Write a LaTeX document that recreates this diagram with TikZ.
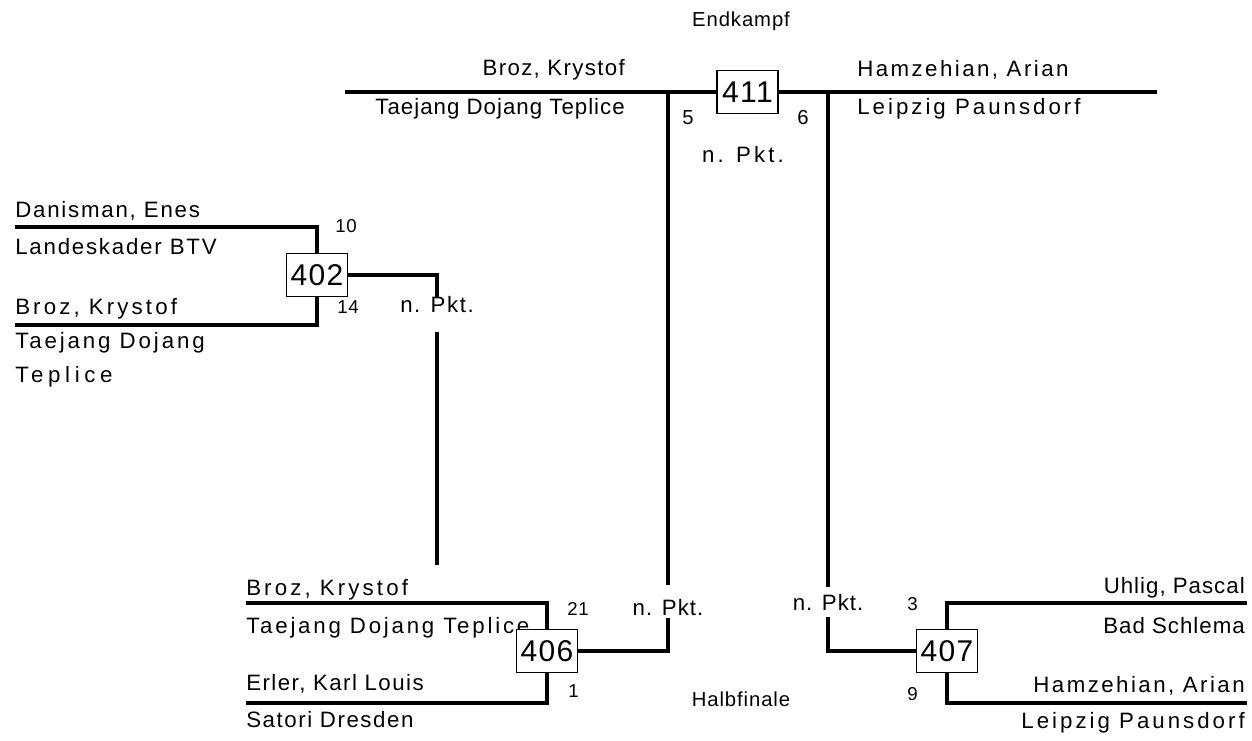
\documentclass[tikz,border=0pt]{standalone}
\usepackage{fontspec}
\setmainfont{Liberation Sans}[LetterSpace=4.5]
\usepackage{tikz}
\newcommand{\namefont}{\fontsize{16.7pt}{25.5pt}\selectfont}
\newcommand{\scorefont}{\fontsize{14pt}{17pt}\selectfont}
\newcommand{\boxfont}{\fontsize{22.5pt}{27pt}\selectfont}
\newcommand{\roundfont}{\fontsize{15.2pt}{18pt}\selectfont}
\newcommand{\track}[1]{\addfontfeature{LetterSpace=#1}}
\edef\boxwidth{45.75pt}
\edef\boxheight{32.25pt}
\tikzstyle{matchbox}=[draw,fill=white,line width=0.9pt,inner sep=0pt,minimum width=\boxwidth,minimum height=\boxheight,font=\boxfont]
\tikzstyle{player}=[inner sep=0pt,font=\namefont]
\tikzstyle{score}=[inner sep=0pt,anchor=base west,font=\scorefont]
\tikzstyle{ptlabel}=[inner sep=0pt,anchor=base,font=\namefont]
\tikzstyle{bline}=[line width=2.6pt]

\begin{document}
\begin{tikzpicture}[x=0.75pt,y=-0.75pt]
	\useasboundingbox (0,0) rectangle (1252,741);

	% Endkampf
	\node[inner sep=0pt,anchor=base,font=\roundfont] (final) at (741,27) {Endkampf};
	\node[player,anchor=base east,font=\namefont\track{6}] (f1name) at (625,76) {Broz, Krystof};
	\node[player,anchor=base east] (f1club) at (625,115) {Taejang Dojang Teplice};
	\node[player,anchor=base west,font=\namefont\track{11}] (f2name) at (857,77) {Hamzehian, Arian};
	\node[player,anchor=base west,font=\namefont\track{13.5}] (f2club) at (857,115) {Leipzig Paunsdorf};
	\node[score,font=\roundfont] (f1score) at (682,125) {5};
	\node[score,font=\roundfont] (f2score) at (797,125) {6};
	\node[ptlabel,font=\namefont\track{14}] (p411) at (743,163) {n. Pkt.};
	\node[matchbox] (m411) at (747.5,92) {411};
	\coordinate (a411) at (345,92);
	\coordinate (b411) at (1157,92);

	% Kampf 402
	\node[player,anchor=base west,font=\namefont\track{8}] (k1name) at (15,218) {Danisman, Enes};
	\node[player,anchor=base west,font=\namefont\track{8}] (k1club) at (15,255) {Landeskader BTV};
	\node[player,anchor=base west,font=\namefont\track{14}] (k2name) at (15,315) {Broz, Krystof};
	\node[player,anchor=north west,align=left] (k2club) at (15,332) {{\track{13}Taejang Dojang}\\{\track{21}Teplice}};
	\node[score] (k1score) at (335,233) {10};
	\node[score] (k2score) at (337,314) {14};
	\node[ptlabel,text height=12pt,text depth=14.25pt,font=\namefont\track{7}] (p402) at (437,313) {n. Pkt.};
	\node[matchbox] (m402) at (317,275) {402};
	\coordinate (a402) at (15,227);
	\coordinate (b402) at (15,325);
	\coordinate (e402) at (437,565);

	% Halbfinale links
	\node[player,anchor=base west,font=\namefont\track{14}] (h1name) at (246,595) {Broz, Krystof};
	\node[player,anchor=base west,font=\namefont\track{12.5}] (h1club) at (246,633) {Taejang Dojang Teplice};
	\node[player,anchor=base west,font=\namefont\track{6.5}] (h2name) at (246,690) {Erler, Karl Louis};
	\node[player,anchor=base west,font=\namefont\track{7}] (h2club) at (246,727) {Satori Dresden};
	\node[score] (h1score) at (567,615) {21};
	\node[score] (h2score) at (568,697) {1};
	\node[ptlabel,text height=22.5pt,text depth=2.25pt] (p406) at (668,615) {n. Pkt.};
	\node[matchbox] (m406) at (547,651) {406};
	\coordinate (a406) at (246,603);
	\coordinate (b406) at (246,703);
	\node[inner sep=0pt,anchor=base,font=\roundfont] (semi) at (741,706) {Halbfinale};

	% Halbfinale rechts
	\node[player,anchor=base east] (r1name) at (1245,593) {Uhlig, Pascal};
	\node[player,anchor=base east] (r1club) at (1245,633) {Bad Schlema};
	\node[player,anchor=base east,font=\namefont\track{11}] (r2name) at (1245,692) {Hamzehian, Arian};
	\node[player,anchor=base east,font=\namefont\track{13.5}] (r2club) at (1245,728) {Leipzig Paunsdorf};
	\node[score] (r1score) at (907,610) {3};
	\node[score] (r2score) at (907,700) {9};
	\node[ptlabel,text height=17.25pt,text depth=5.25pt] (p407) at (828,610) {n. Pkt.};
	\node[matchbox] (m407) at (947,651) {407};
	\coordinate (a407) at (1247,603);
	\coordinate (b407) at (1247,703);

	% Linien
	\draw[bline] (a411) -- (m411.west);
	\draw[bline] (m411.east) -- (b411);
	\draw[bline] (a402) -| (m402.north);
	\draw[bline] (b402) -| (m402.south);
	\draw[bline] (m402.east) -| (p402.north);
	\draw[bline] (p402.south) -- (e402);
	\draw[bline] (a406) -| (m406.north);
	\draw[bline] (b406) -| (m406.south);
	\draw[bline] (m406.east) -| (p406.south);
	\draw[bline] (p406.north) -- (p406.north |- a411);
	\draw[bline] (a407) -| (m407.north);
	\draw[bline] (b407) -| (m407.south);
	\draw[bline] (m407.west) -| (p407.south);
	\draw[bline] (p407.north) -- (p407.north |- b411);
\end{tikzpicture}
\end{document}
